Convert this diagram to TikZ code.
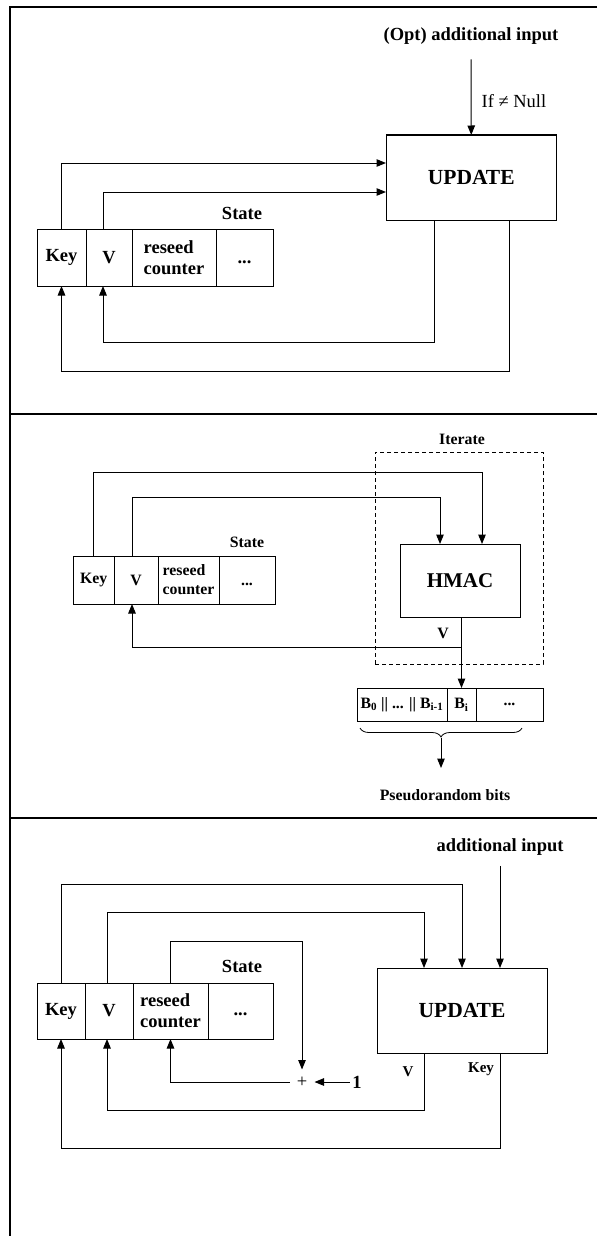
\documentclass[tikz,border=0pt]{standalone}
\usepackage{fontspec}
\setmainfont{Liberation Serif}
\usetikzlibrary{positioning, arrows.meta, decorations.pathreplacing}

\begin{document}
\begin{tikzpicture}[x=1pt, y=-1pt, line width=1pt,
    >={Triangle[length=9.5pt,width=7.5pt]},
    cell/.style={draw, outer sep=0pt, inner sep=1pt, align=center,
        font=\bfseries\fontsize{18.5}{21}\selectfont},
    smallcell/.style={cell, font=\bfseries\fontsize{15.8}{19}\selectfont},
    block/.style={draw, outer sep=0pt, minimum width=170pt, minimum height=85pt,
        font=\bfseries\fontsize{21.5}{24}\selectfont},
    textlbl/.style={inner sep=0pt, font=\bfseries\fontsize{18.5}{21}\selectfont},
    smalllbl/.style={inner sep=0pt, font=\bfseries\fontsize{15.8}{19}\selectfont},
    panel/.style={line width=1.9pt}]

    \useasboundingbox (0,0) rectangle (597,1236);
    \draw[panel] (597,7) -- (10,7) -- (10,1236);
    \draw[panel] (10,414) -- (597,414);
    \draw[panel] (10,818) -- (597,818);

    % reseed
    \node[textlbl] (addin1) at (471,36) {(Opt) additional input};
    \node[block, minimum width=170.5pt] (upd1) at (471.25,177.5) {UPDATE};
    \node[cell, minimum width=49pt, minimum height=57pt] (key1) at (61.5,257.5) {Key};
    \node[cell, minimum width=46pt, minimum height=57pt, right=0pt of key1] (v1) {V};
    \node[cell, minimum width=84pt, minimum height=57pt, align=left, right=0pt of v1] (rs1) {reseed\\counter};
    \node[cell, minimum width=57pt, minimum height=57pt, right=0pt of rs1] (dots1) {\raisebox{-5pt}[\height][\depth]{...}};
    \node[textlbl] (st1) at (242,213) {State};

    \draw[->] ([yshift=-14.5pt]addin1.south) -- (upd1.north)
        node[pos=0.55, right=10pt, inner sep=0pt, font=\fontsize{18.5}{21}\selectfont] (ifnull) {If ≠ Null};
    \draw[->] (key1.north) |- ([yshift=14.5pt]upd1.west);
    \draw[->] ([xshift=-6pt]v1.north) |- ([yshift=-14.5pt]upd1.west);
    \draw[->] ([xshift=-37pt]upd1.south) -- ++(0,122) -| ([xshift=-6pt]v1.south);
    \draw[->] ([xshift=38pt]upd1.south) -- ++(0,151) -| (key1.south);

    % generate
    \node[smalllbl] (iterlbl) at (462,439) {Iterate};
    \node[draw, dash pattern=on 4pt off 3pt, outer sep=0pt, minimum width=168pt, minimum height=212pt] (iter) at (459,558) {};
    \node[block, minimum width=120pt, minimum height=73pt, font=\bfseries\fontsize{21}{24}\selectfont] (hmac) at (460,580.5) {HMAC};
    \node[smallcell, minimum width=40.5pt, minimum height=48pt] (key2) at (93.75,580) {Key};
    \node[smallcell, minimum width=44pt, minimum height=48pt, right=0pt of key2] (v2) {V};
    \node[smallcell, minimum width=61pt, minimum height=48pt, align=left, right=0pt of v2] (rs2) {reseed\\counter};
    \node[smallcell, minimum width=56pt, minimum height=48pt, right=0pt of rs2] (dots2) {\raisebox{-4pt}[\height][\depth]{...}};
    \node[smalllbl] (st2) at (247,542) {State};

    \node[smallcell, minimum width=90pt, minimum height=33pt] (b0) at (402,704.5) {B\textsubscript{0} || ... || B\textsubscript{i-1}};
    \node[smallcell, minimum width=29pt, minimum height=33pt, right=0pt of b0] (bi) {B\textsubscript{i}};
    \node[smallcell, minimum width=67pt, minimum height=33pt, right=0pt of bi] (bdots) {...};
    \node[smalllbl] (vout2) at (443,633) {V};
    \node[smalllbl] (prb) at (445,795) {Pseudorandom bits};
    \coordinate (btip) at (441,738);
    \coordinate (bend) at (441,768);

    \draw[->] (key2.north) -- ++(0,-84) -| ([xshift=22pt]hmac.north);
    \draw[->] ([xshift=-4pt]v2.north) -- ++(0,-59) -| ([xshift=-20pt]hmac.north);
    \draw[->] (hmac.south -| bi.north) -- (bi.north);
    \draw[->] (hmac.south -| bi.north) -- ++(0,30) -| ([xshift=-4pt]v2.south);
    \draw[line width=0.8pt, decorate, decoration={brace, mirror, amplitude=9pt}]
        ([xshift=3pt,yshift=-7pt]b0.south west) -- ([xshift=-21pt,yshift=-7pt]bdots.south east);
    \draw[->] (btip) -- (bend);

    % reseed counter
    \node[textlbl] (addin3) at (500,847) {additional input};
    \node[block] (upd3) at (462,1010.5) {UPDATE};
    \node[cell, minimum width=48pt, minimum height=56pt] (key3) at (61,1011) {Key};
    \node[cell, minimum width=48pt, minimum height=56pt, right=0pt of key3] (v3) {V};
    \node[cell, minimum width=75pt, minimum height=56pt, align=left, right=0pt of v3] (rs3) {reseed\\counter};
    \node[cell, minimum width=65pt, minimum height=56pt, right=0pt of rs3] (dots3) {\raisebox{-3pt}[\height][\depth]{...}};
    \node[textlbl] (st3) at (242,966) {State};
    \node[minimum size=24pt, inner sep=0pt, font=\fontsize{18.5}{21}\selectfont] (plus) at (302,1082) {+};
    \node[textlbl, inner sep=2pt] (one) at (357,1082) {1};
    \node[inner sep=0pt, font=\bfseries\fontsize{15}{18}\selectfont] (vout3) at (408,1072) {V};
    \node[inner sep=0pt, font=\bfseries\fontsize{15}{18}\selectfont] (kout3) at (481,1069) {Key};

    \draw[->] ([yshift=-10pt]addin3.south) -- ([xshift=38pt]upd3.north);
    \draw[->] (key3.north) -- ++(0,-99) -| (upd3.north);
    \draw[->] ([xshift=-2pt]v3.north) -- ++(0,-71) -| ([xshift=-38pt]upd3.north);
    \draw[->] (rs3.north) -- ++(0,-42) -| (plus.north);
    \draw[->] (one.west) -- (plus.east);
    \draw[->] (plus.west) -| (rs3.south);
    \draw[->] ([xshift=-38pt]upd3.south) -- ++(0,57) -| ([xshift=-2pt]v3.south);
    \draw[->] ([xshift=38pt]upd3.south) -- ++(0,95) -| (key3.south);
\end{tikzpicture}
\end{document}
